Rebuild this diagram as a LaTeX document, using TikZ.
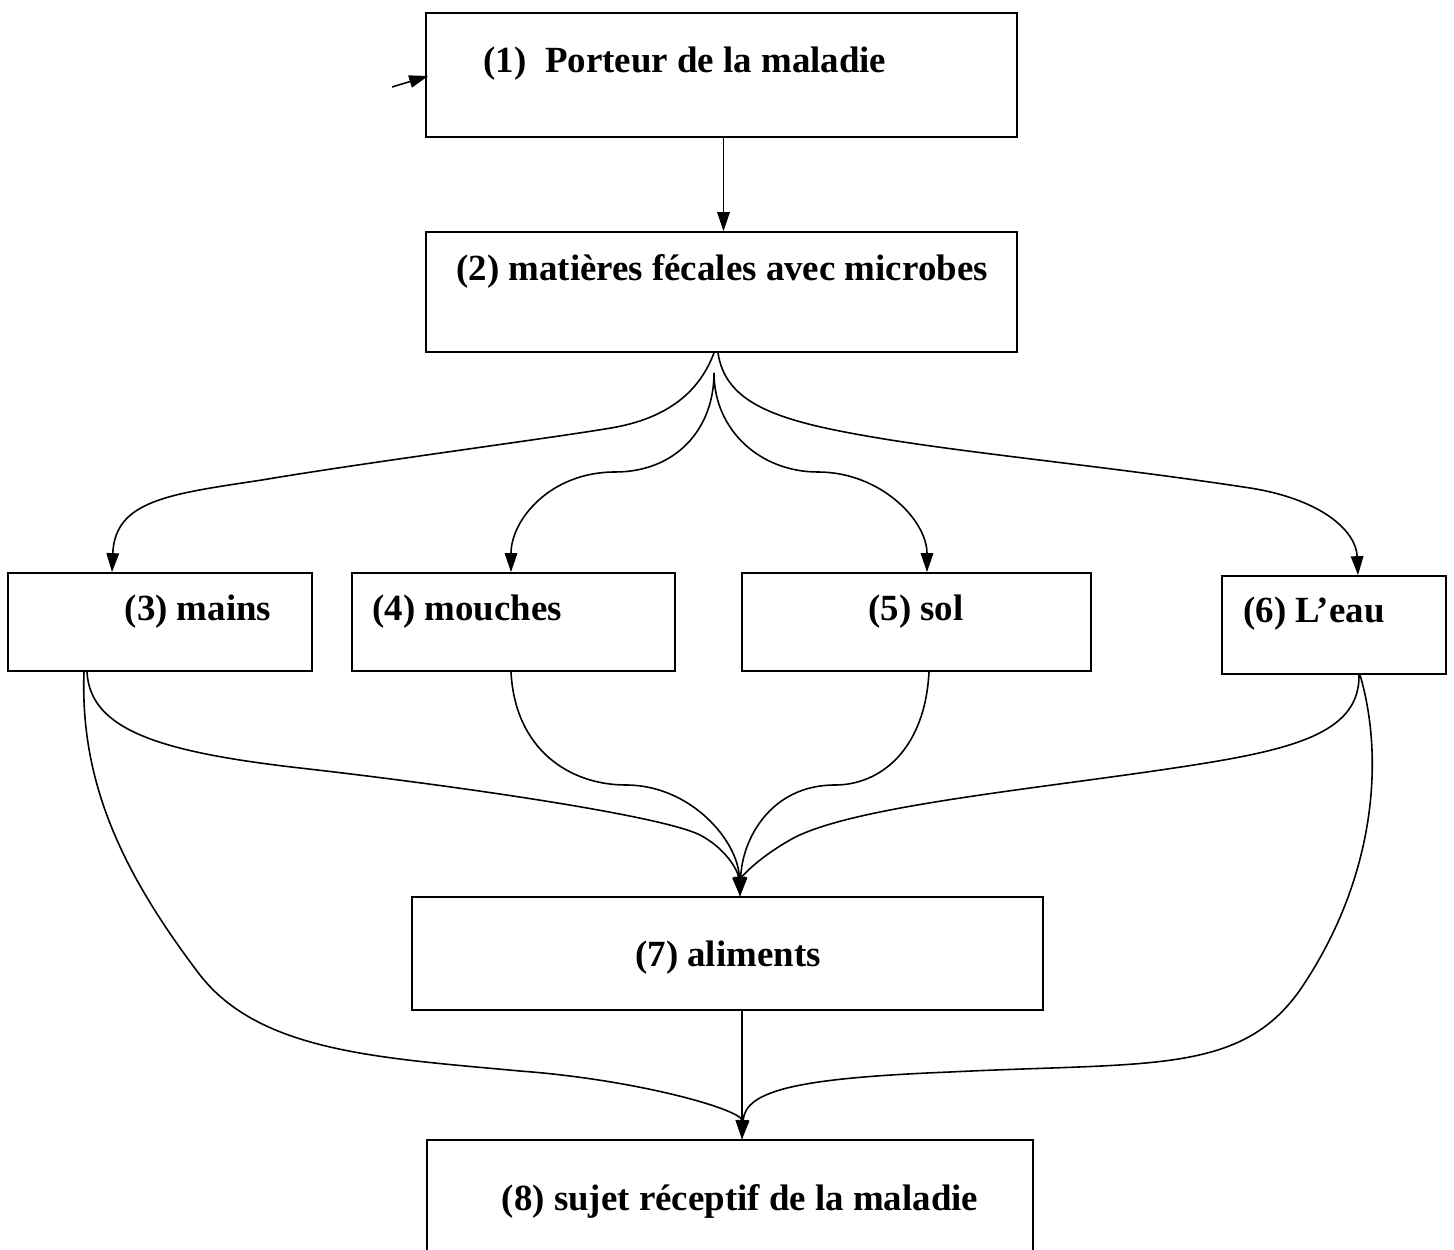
\documentclass[tikz,border=0pt]{standalone}
\usepackage{fontspec}
\setmainfont{Liberation Serif}
\usetikzlibrary{arrows.meta,calc}
\tikzset{box/.style={draw, line width=1pt, inner sep=0pt}}
\tikzset{link/.style={line width=0.9pt, -{Triangle[length=0.38cm,width=0.25cm]}}}
\tikzset{lbl/.style={inner sep=0pt, font=\bfseries\fontsize{21}{25}\selectfont}}

\begin{document}
\begin{tikzpicture}[x=0.02cm, y=-0.02cm]
        \useasboundingbox (0,0) rectangle (1454,1250);

        % boxes
        \node[box, minimum width=11.82cm, minimum height=2.48cm] (b1) at (721.5,75) {};
        \node[box, minimum width=11.82cm, minimum height=2.40cm] (b2) at (721.5,292) {};
        \node[box, minimum width=6.08cm, minimum height=1.96cm] (b3) at (160,622) {};
        \node[box, minimum width=6.46cm, minimum height=1.96cm] (b4) at (513.5,622) {};
        \node[box, minimum width=6.98cm, minimum height=1.96cm] (b5) at (916.5,622) {};
        \node[box, minimum width=4.48cm, minimum height=1.96cm] (b6) at (1334,625) {};
        \node[box, minimum width=12.62cm, minimum height=2.26cm] (b7) at (727.5,953.5) {};
        \node[box, minimum width=12.12cm, minimum height=2.44cm] (b8) at (730,1201) {};

        % texts
        \node[lbl] (t1) at (685,64) {(1)~ Porteur de la maladie};
        \node[lbl] (t2) at (722,271) {(2) matières fécales avec microbes};
        \node[lbl] (t3) at (198,612) {(3) mains};
        \node[lbl, anchor=west] (t4) at (372,612) {(4) mouches};
        \node[lbl] (t5) at (916,612) {(5) sol};
        \node[lbl] (t6) at (1314,614) {(6) L’eau};
        \node[lbl] (t7) at (728,958) {(7) aliments};
        \node[lbl] (t8) at (740,1201) {(8) sujet réceptif de la maladie};

        \coordinate (in) at (392,87);
        \draw [link] (in) -- ($(b1.west)+(3,1)$);
        \draw [link] ($(b1.south)+(2,0)$) -- ($(b2.north)+(2,0)$);

        % from (2)
        \draw [link] ($(b2.south)+(-7.5,0)$) .. controls (700,390) and (670,418) .. (611,428)
                .. controls (552,438) and (362,463) .. (262,480)
                .. controls (170,494) and (115,500) .. ($(b3.north)+(-48,0)$);
        \draw [link] ($(b2.south)+(-7.5,20)$) .. controls (714,430) and (675,472) .. (615,472)
                .. controls (550,472) and (511,520) .. ($(b4.north)+(-2.5,0)$);
        \draw [link] ($(b2.south)+(-7.5,20)$) .. controls (714,430) and (760,472) .. (818,472)
                .. controls (880,472) and (927,520) .. ($(b5.north)+(10.5,0)$);
        \draw [link] ($(b2.south)+(-3.5,0)$) .. controls (725,400) and (770,418) .. (850,433)
                .. controls (950,452) and (1100,465) .. (1250,488)
                .. controls (1320,499) and (1356,530) .. ($(b6.north)+(24,0)$);

        % to (7)
        \draw [link] ($(b3.south)+(-73,0)$) .. controls (90,730) and (160,752) .. (300,768)
                .. controls (450,785) and (660,815) .. (700,835)
                .. controls (725,848) and (738,870) .. ($(b7.north)+(12.5,0)$);
        \draw [link] ($(b4.south)+(-2.5,0)$) .. controls (515,750) and (570,785) .. (626,785)
                .. controls (690,785) and (738,840) .. ($(b7.north)+(12.5,0)$);
        \draw [link] ($(b5.south)+(12.5,0)$) .. controls (925,750) and (880,785) .. (835,785)
                .. controls (770,785) and (742,840) .. ($(b7.north)+(12.5,0)$);
        \draw [link] ($(b6.south)+(25,0)$) .. controls (1360,730) and (1300,748) .. (1200,764)
                .. controls (1050,788) and (850,805) .. (790,840)
                .. controls (755,860) and (741,878) .. ($(b7.north)+(12.5,0)$);

        % to (8)
        \draw [link] ($(b7.south)+(14.5,0)$) -- ($(b8.north)+(12,0)$);
        \draw [link] ($(b3.south)+(-76,0)$) .. controls (80,780) and (120,870) .. (200,975)
                .. controls (260,1052) and (380,1058) .. (520,1071)
                .. controls (640,1080) and (742,1110) .. ($(b8.north)+(12,0)$);
        \draw [link] ($(b6.south)+(26,0)$) .. controls (1385,760) and (1375,880) .. (1300,990)
                .. controls (1240,1075) and (1150,1062) .. (950,1072)
                .. controls (800,1078) and (745,1090) .. ($(b8.north)+(12,0)$);

\end{tikzpicture}
\end{document}
